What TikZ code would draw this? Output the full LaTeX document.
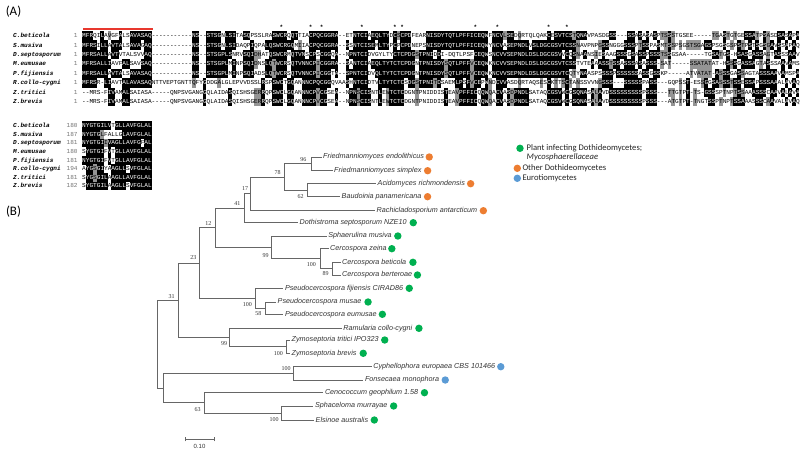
\documentclass[tikz,border=0pt]{standalone}
\usepackage{fontspec}
\setmonofont{Liberation Mono}
\newfontfamily\taxfont{Liberation Sans}
\newfontfamily\bsfont{Liberation Serif}
\newfontfamily\legfont{Carlito}
\definecolor{pgreen}{HTML}{00B050}
\definecolor{porange}{HTML}{ED7D31}
\definecolor{pblue}{HTML}{5B9BD5}
\definecolor{redbar}{HTML}{E8382E}
\tikzset{
  alseq/.style={anchor=base west, inner sep=0pt, font=\ttfamily\fontsize{6.1}{6.1}\selectfont},
  alname/.style={anchor=base west, inner sep=0pt, font=\ttfamily\bfseries\itshape\fontsize{6.1}{6.1}\selectfont},
  alnum/.style={anchor=base east, inner sep=0pt, text=black!55, font=\ttfamily\fontsize{6.1}{6.1}\selectfont},
  star/.style={anchor=base, inner sep=0pt, font=\ttfamily\bfseries\fontsize{6}{6}\selectfont},
  br/.style={draw=black!60, line width=0.75pt},
  taxon/.style={anchor=west, inner sep=1.5pt, text=black!80, font=\taxfont\itshape\fontsize{7.2}{8}\selectfont},
  boot/.style={inner sep=0pt, text=black!80, font=\bsfont\fontsize{6}{7}\selectfont},
  leafdot/.style={circle, fill=#1, inner sep=0pt, minimum size=7.4pt},
  legtext/.style={anchor=west, inner sep=0pt, text=black!85, font=\legfont\fontsize{8.6}{9}\selectfont},
  panel/.style={inner sep=0pt, font=\legfont\fontsize{13}{14}\selectfont}
}
\newcommand\alfill[4]{\fill[#1] (#2,#3-#4/2-0.03) rectangle ++(3.7,#4+0.06);}
\newcommand\alrowtext[3]{\node[alseq] (#3) at (82,#1+1.9) {#2};}

\ExplSyntaxOn
\intarray_new:Nn \g_al_cell_intarray {2000}
\intarray_new:Nn \g_al_shade_intarray {2000}
\intarray_new:Nn \g_al_grp_intarray {200}
\int_new:N \l_al_col_int
\int_new:N \l_al_len_int
\int_new:N \l_al_rows_int
\int_new:N \l_al_best_int
\int_new:N \l_al_bestch_int
\int_new:N \l_al_gbest_int
\int_new:N \l_al_gbestg_int
\int_new:N \l_al_cnt_int
\int_new:N \l_al_gcnt_int
\int_new:N \l_al_a_int
\int_new:N \l_al_b_int
\int_new:N \l_al_s_int
\int_new:N \l_al_c_int
\int_new:N \l_al_i_int
\int_new:N \l_al_j_int
\tl_new:N \l_al_row_tl
\int_const:Nn \c_al_W_int {200}

\int_step_inline:nn {199} { \intarray_gset:Nnn \g_al_grp_intarray {#1} {#1 + 1000} }
\cs_new_protected:Npn \al_setgrp:nn #1#2
  { \tl_map_inline:nn {#1} { \intarray_gset:Nnn \g_al_grp_intarray { `##1 } {#2} } }
\al_setgrp:nn {ILVM}{1}
\al_setgrp:nn {FYW}{2}
\al_setgrp:nn {KRH}{3}
\al_setgrp:nn {DE}{4}
\al_setgrp:nn {NQ}{5}
\al_setgrp:nn {ST}{6}
\al_setgrp:nn {AG}{7}

\cs_new:Npn \al_cell:nn #1#2
  { \intarray_item:Nn \g_al_cell_intarray { (#1 - 1) * \c_al_W_int + (#2) } }
\cs_new:Npn \al_grp:n #1
  { \intarray_item:Nn \g_al_grp_intarray {#1} }

\cs_new_protected:Npn \al_reset:
  {
    \intarray_gzero:N \g_al_cell_intarray
    \intarray_gzero:N \g_al_shade_intarray
    \int_zero:N \l_al_len_int
    \int_zero:N \l_al_rows_int
  }

\cs_new_protected:Npn \al_store:nn #1#2
  {
    \int_zero:N \l_al_col_int
    \tl_map_inline:nn {#2}
      {
        \int_incr:N \l_al_col_int
        \intarray_gset:Nnn \g_al_cell_intarray
          { (#1 - 1) * \c_al_W_int + \l_al_col_int } { `##1 }
      }
    \int_compare:nNnT { \l_al_col_int } > { \l_al_len_int }
      { \int_set_eq:NN \l_al_len_int \l_al_col_int }
    \int_compare:nNnT { #1 } > { \l_al_rows_int }
      { \int_set:Nn \l_al_rows_int {#1} }
  }

\cs_new_protected:Npn \al_compute:
  {
    \int_set:Nn \l_al_c_int {1}
    \int_while_do:nNnn { \l_al_c_int } < { \l_al_len_int + 1 }
      {
        \int_zero:N \l_al_best_int
        \int_zero:N \l_al_bestch_int
        \int_zero:N \l_al_gbest_int
        \int_zero:N \l_al_gbestg_int
        \int_set:Nn \l_al_i_int {1}
        \int_while_do:nNnn { \l_al_i_int } < { \l_al_rows_int + 1 }
          {
            \int_set:Nn \l_al_a_int { \al_cell:nn { \l_al_i_int } { \l_al_c_int } }
            \int_compare:nNnT { \l_al_a_int } > {45}
              {
                \int_zero:N \l_al_cnt_int
                \int_zero:N \l_al_gcnt_int
                \int_set:Nn \l_al_j_int {1}
                \int_while_do:nNnn { \l_al_j_int } < { \l_al_rows_int + 1 }
                  {
                    \int_set:Nn \l_al_b_int { \al_cell:nn { \l_al_j_int } { \l_al_c_int } }
                    \int_compare:nNnT { \l_al_b_int } > {45}
                      {
                        \int_compare:nNnT { \l_al_b_int } = { \l_al_a_int }
                          { \int_incr:N \l_al_cnt_int }
                        \int_compare:nNnT { \al_grp:n { \l_al_b_int } } = { \al_grp:n { \l_al_a_int } }
                          { \int_incr:N \l_al_gcnt_int }
                      }
                    \int_incr:N \l_al_j_int
                  }
                \int_compare:nNnT { \l_al_cnt_int } > { \l_al_best_int }
                  {
                    \int_set_eq:NN \l_al_best_int \l_al_cnt_int
                    \int_set_eq:NN \l_al_bestch_int \l_al_a_int
                  }
                \int_compare:nNnT { \l_al_gcnt_int } > { \l_al_gbest_int }
                  {
                    \int_set_eq:NN \l_al_gbest_int \l_al_gcnt_int
                    \int_set:Nn \l_al_gbestg_int { \al_grp:n { \l_al_a_int } }
                  }
              }
            \int_incr:N \l_al_i_int
          }
        \int_set:Nn \l_al_i_int {1}
        \int_while_do:nNnn { \l_al_i_int } < { \l_al_rows_int + 1 }
          {
            \int_set:Nn \l_al_a_int { \al_cell:nn { \l_al_i_int } { \l_al_c_int } }
            \int_zero:N \l_al_s_int
            \int_compare:nNnT { \l_al_a_int } > {45}
              {
                \bool_if:nTF
                  {
                    \int_compare_p:nNn { \l_al_a_int } = { \l_al_bestch_int }
                    && \int_compare_p:nNn { \l_al_best_int } > {2}
                  }
                  { \int_set:Nn \l_al_s_int {1} }
                  {
                    \bool_if:nT
                      {
                        \int_compare_p:nNn { \al_grp:n { \l_al_a_int } } = { \l_al_gbestg_int }
                        && \int_compare_p:nNn { \l_al_gbest_int } > {2}
                      }
                      { \int_set:Nn \l_al_s_int {2} }
                  }
              }
            \intarray_gset:Nnn \g_al_shade_intarray
              { (\l_al_i_int - 1) * \c_al_W_int + \l_al_c_int } { \l_al_s_int }
            \int_incr:N \l_al_i_int
          }
        \int_incr:N \l_al_c_int
      }
  }

\cs_new_protected:Npn \al_draw:nnn #1#2#3
  {
    \int_set:Nn \l_al_i_int {1}
    \int_while_do:nNnn { \l_al_i_int } < { \l_al_rows_int + 1 }
      {
        \tl_clear:N \l_al_row_tl
        \int_set:Nn \l_al_c_int {1}
        \int_while_do:nNnn { \l_al_c_int } < { \l_al_len_int + 1 }
          {
            \int_set:Nn \l_al_a_int { \al_cell:nn { \l_al_i_int } { \l_al_c_int } }
            \int_set:Nn \l_al_s_int
              { \intarray_item:Nn \g_al_shade_intarray { (\l_al_i_int - 1) * \c_al_W_int + \l_al_c_int } }
            \int_compare:nNnT { \l_al_a_int } > {0}
              {
                \int_case:nnF { \l_al_s_int }
                  {
                    {1}
                      {
                        \use:x
                          {
                            \exp_not:N \alfill {black}
                              { \fp_eval:n { 82 + 3.66 * (\l_al_c_int - 1) } }
                              { \fp_eval:n { #1 + #2 * (\l_al_i_int - 1) } } {#2}
                          }
                        \tl_put_right:Nx \l_al_row_tl
                          { \exp_not:N \textcolor{white}{ \char_generate:nn { \l_al_a_int } {12} } }
                      }
                    {2}
                      {
                        \use:x
                          {
                            \exp_not:N \alfill {black!42}
                              { \fp_eval:n { 82 + 3.66 * (\l_al_c_int - 1) } }
                              { \fp_eval:n { #1 + #2 * (\l_al_i_int - 1) } } {#2}
                          }
                        \tl_put_right:Nx \l_al_row_tl
                          { \char_generate:nn { \l_al_a_int } {12} }
                      }
                  }
                  {
                    \tl_put_right:Nx \l_al_row_tl
                      { \char_generate:nn { \l_al_a_int } {12} }
                  }
              }
            \int_incr:N \l_al_c_int
          }
        \use:x
          {
            \exp_not:N \alrowtext
              { \fp_eval:n { #1 + #2 * (\l_al_i_int - 1) } }
              { \exp_not:V \l_al_row_tl }
              { #3 \int_use:N \l_al_i_int }
          }
        \int_incr:N \l_al_i_int
      }
  }

\NewDocumentCommand \AlReset {} { \al_reset: }
\NewDocumentCommand \AlStore {mm} { \al_store:nn {#1} {#2} }
\NewDocumentCommand \AlRun {mmm} { \al_compute: \al_draw:nnn {#1} {#2} {#3} }
\ExplSyntaxOff

\begin{document}
\begin{tikzpicture}[x=1pt,y=-1pt]
\useasboundingbox (0,0) rectangle (800,450);
\fill[white] (0,0) rectangle (800,450);

% ---------- panel labels
\node[panel] (labA) at (13.5,12) {(A)};
\node[panel] (labB) at (13.5,212) {(B)};

% ---------- alignment block 1
\AlReset
\AlStore{1}{MFRQILAVGFALSAVASAQ-----------NS--STSGNLSITASQPSSLRASWCRQQTTIACPQCGGRA--ETNTCIAEQLTYDCSCPDFEARNISDYTQTLPFFICEQWFNCVLSEDQRTQLQAKCESVTCSTQNAVPASDGSS---SSASASASPTSSSTGSEE-----TGASTGTGESSATPSASDSASAPA}
\AlStore{2}{MFRSILLAVTALSAVAGAQ-----------NS--STSGNLSIDAQPIQPALQSWCRGQMIIACPQCGGRA--SSNTCISEMLTYPCPCPDNEPSNISDYTQTLPFFICEQWYNCVASEPNDLVSLDGCGSVTCSSNAVPNPGSSNGGGSSSPTSSPASMTSSPSGSTSGAGSPSGSGSPSTPSTSGSGAVSSAPAQ}
\AlStore{3}{MFRSALLAVTVTALSVVAQ-----------NS--STSGPLSNRVSQIDHATQSWCRMQTVNSCPSCGGQA--NPNTCIDVGYLTYCTCPDGSTPNIDDI-DQTLPSFCEQWSNCVVSEPNDLDSLDGCGSVVCQSNAANSIESAAGSSSGSASSPSSSTSSGSAA-----TGSATGS-HSASGASSAGTASSSAAV}
\AlStore{4}{MFRSALLIAVFALSAVSAQ-----------NS--STSGPLMINPSQIDNSLQTWCRSQTVNNCPICGGRA--SANTCIAEQLTYTCTCPDGNTPNISDYSQTLPFFVCEQWKNCVVSEPNDLDSLDGCGSVTCSSTVTEAAASSTSSASSSASASSS-SAT-----SSATATAT-HSSSGASSAGTASSSAAVAMS}
\AlStore{5}{MFRSALLAVTALSAVASAQ-----------NS--STSGPLMINPSQIADSLQTWCRSQTVNNCPICGGTA--SPNTCIDVQLTYTCTCPDGNTPNISDYSQTLPFFVCEQWKNCVVSEPNDLDSLDGCGSVTCQTYNAASPSSSSPSSSSSSASSGSSKP-----ATVATAT-ASSSGASSAGTASSSAAVAMSPA}
\AlStore{6}{MFRSR-LIAVTALAVASAQNTTVEPTGNTTQFYGDDGALGLEPVVDSSLRSPSWCTGQANNNCPQCGGQVAASHNTCIDTVLTYTCTCSDGSTPNITDSAEMLPSFVCEPWNDCVVASDQRTAQSESCKTTSCTANSSVVNGSSS---SSSSSPASS---GQPSST-ESSGGSASSSTSSESSAPSSSAAALAVAQ}
\AlStore{7}{--MRS-FIVAMALSAIASA-----QNPSVGANGGQLAIDASQISHSGERRQPSWCLGQANNNCPVCGSEA--NPNSCISNTLEWTCTCDGNTPNIDDISTEAVPFFICQQWQACVASDPNDLSATAQCGSVWCGSQNASALAVDSSSSSSSSSPSSS---TTGTPT-TS-GSSSPTNPTSSAAASSSCAAVALAVA}
\AlStore{8}{--MRS-FIVAMALSAIASA-----QNPSVGANGGQLAIDASQISHSGERRQPSWCLGQANNNCPVCGSEA--NPNSCISNTLEWTCTCDGNTPNIDDISTEAVPFFICQQWQACVASDPNDLSATAQCGSVWCGSQNASALAVDSSSSSSSSSPSSS---ATGTPT-TNGTSSPTNPTSSAAASSSCAAVALAVAQ}
\begin{scope}
\clip (0,0) rectangle (800,450);
\AlRun{35.7}{9.43}{sa}
\end{scope}

% names and numbers, block 1
\foreach \nm [count=\k] in {C.beticola,S.musiva,D.septosporum,M.eumusae,P.fijiensis,R.collo-cygni,Z.tritici,Z.brevis}{
  \node[alname] (na\k) at (13,35.7+9.43*\k-9.43+1.9) {\nm};
  \node[alnum] (ca\k) at (77.8,35.7+9.43*\k-9.43+1.9) {1};
}

% signal peptide bar and asterisks
\coordinate (rb1) at (83,29.3);
\coordinate (rb2) at (153.3,29.3);
\draw[redbar, line width=2pt] (rb1) -- (rb2);
\foreach \c [count=\k] in {54,62,65,76,85,87,107,113,127,132}{
  \node[star] (ast\k) at (82+3.66*\c+1.83,29.6) {*};
}

% ---------- alignment block 2
\AlReset
\AlStore{1}{NYGTGILVTGLLAVFGLAL}
\AlStore{2}{NYGTGLFALLGLAVFGLAL}
\AlStore{3}{NYGTGIIVAGLLAVFGFAL}
\AlStore{4}{SYGTGIFVTGLLAVFGLAL}
\AlStore{5}{NYGTGIFVTGLLAVFGLAL}
\AlStore{6}{AYGSGIYAAGLLSVFGLAL}
\AlStore{7}{SYGSGILAAGLLAVFGLAL}
\AlStore{8}{SYGTGILAAGLLSVFGLAL}
\AlRun{125.7}{8.62}{sb}
\foreach \nm/\nb [count=\k] in {C.beticola/180,S.musiva/187,D.septosporum/181,M.eumusae/180,P.fijiensis/181,R.collo-cygni/194,Z.tritici/181,Z.brevis/182}{
  \node[alname] (nb\k) at (13,125.7+8.62*\k-8.62+1.9) {\nm};
  \node[alnum] (cb\k) at (77.8,125.7+8.62*\k-8.62+1.9) {\nb};
}

% ---------- tree: internal nodes
\coordinate (n96) at (311,163.85);
\coordinate (n62) at (307.3,190.2);
\coordinate (n78) at (284.3,177.03);
\coordinate (n17) at (250.7,193.86);
\coordinate (n41) at (244.3,208.28);
\coordinate (n89) at (332.7,268.65);
\coordinate (nC100) at (320.7,258.68);
\coordinate (n99a) at (271.7,247.34);
\coordinate (n12) at (215,227.81);
\coordinate (n58) at (265,308.15);
\coordinate (nP100) at (255,298.23);
\coordinate (n23) at (199.3,263.02);
\coordinate (nZ100) at (286.7,346.65);
\coordinate (n99b) at (229.3,337.48);
\coordinate (n31) at (178.3,300.25);
\coordinate (nE100) at (293.3,373.35);
\coordinate (nS100) at (281.7,413);
\coordinate (n63) at (204.3,402.85);
\coordinate (nX) at (163.3,388.1);
\coordinate (root) at (157.3,344.18);

% leaves: end of branch, taxon, dot (gap after text)
\foreach \id/\x/\y/\gp/\col/\txt in {
  l01/321.5/157/3.5/porange/Friedmanniomyces endolithicus,
  l02/332.5/170.7/4.5/porange/Friedmanniomyces simplex,
  l03/376/183.7/4/porange/Acidomyces richmondensis,
  l04/340/196.7/4.5/porange/Baudoinia panamericana,
  l05/375/210.7/4.5/porange/Rachicladosporium antarcticum,
  l06/298/222.7/5/pgreen/Dothistroma septosporum NZE10,
  l07/326.7/236/4.5/pgreen/Sphaerulina musiva,
  l08/328.5/248.7/3.5/pgreen/Cercospora zeina,
  l09/340.5/262.3/5/pgreen/Cercospora beticola,
  l10/340.5/275/3.5/pgreen/Cercospora berteroae,
  l11/283.3/288.3/4.5/pgreen/Pseudocercospora fijiensis CIRAD86,
  l12/276/302/5/pgreen/Pseudocercospora musae,
  l13/283.3/314.3/4/pgreen/Pseudocercospora eumusae,
  l14/341.7/328.3/5/pgreen/Ramularia collo-cygni,
  l15/290/340/4.5/pgreen/Zymoseptoria tritici IPO323,
  l16/290/353.3/5/pgreen/Zymoseptoria brevis,
  l17/371.7/366.7/4/pblue/Cyphellophora europaea CBS 101466,
  l18/363.3/380/4.5/pblue/Fonsecaea monophora,
  l19/323.3/392.7/4.5/pgreen/Cenococcum geophilum 1.58,
  l20/313.3/406/4.5/pgreen/Sphaceloma murrayae,
  l21/314/420/4.5/pgreen/Elsinoe australis}{
  \coordinate (\id) at (\x,\y);
  \node[taxon] (t\id) at (\id) {\txt};
  \node[leafdot=\col] (d\id) at ([xshift=\gp pt]t\id.east |- \id) {};
}

% branches
\foreach \p/\c in {n96/l01,n96/l02,n62/l03,n62/l04,n78/n96,n78/n62,n17/n78,n17/l05,
  n41/n17,n41/l06,n89/l09,n89/l10,nC100/l08,nC100/n89,n99a/l07,n99a/nC100,
  n12/n41,n12/n99a,n58/l12,n58/l13,nP100/l11,nP100/n58,n23/n12,n23/nP100,
  nZ100/l15,nZ100/l16,n99b/l14,n99b/nZ100,n31/n23,n31/n99b,
  nE100/l17,nE100/l18,nS100/l20,nS100/l21,n63/l19,n63/nS100,nX/nE100,nX/n63,
  root/n31,root/nX}{
  \draw[br] (\p) |- (\c);
}

% bootstrap values
\foreach \v/\x/\y [count=\k] in {96/303.3/159.3,78/277.7/172.7,62/300.7/196.7,17/245/188.3,
  41/237.3/203.3,12/208.3/223.3,99/265.7/255.7,100/311.3/264.7,89/325.7/274,
  23/193.3/258,100/247.3/304.3,58/258.3/313.3,31/171.7/296.7,99/224/343.3,
  100/278.3/353.3,100/286/368.3,63/197.7/409.3,100/274/420}{
  \node[boot] (bs\k) at (\x,\y) {\v};
}

% scale bar
\coordinate (sb1) at (185,439.3);
\coordinate (sb2) at (214,439.3);
\draw[br] (sb1) -- (sb2);
\draw[br] ([yshift=-2pt]sb1) -- ([yshift=2pt]sb1);
\draw[br] ([yshift=-2pt]sb2) -- ([yshift=2pt]sb2);
\node[boot, font=\taxfont\fontsize{6}{7}\selectfont] (sblab) at (199.5,446) {0.10};

% legend
\node[leafdot=pgreen] (lg1) at (520,148.3) {};
\node[legtext] (lgt1) at (526.5,148.3) {Plant infecting Dothideomycetes;};
\node[legtext, font=\legfont\itshape\fontsize{8.6}{9}\selectfont] (lgt1b) at (526.5,157.7) {Mycosphaerellaceae};
\node[leafdot=porange] (lg2) at (517.3,168.3) {};
\node[legtext] (lgt2) at (522.3,168.3) {Other Dothideomycetes};
\node[leafdot=pblue] (lg3) at (517.3,178.3) {};
\node[legtext] (lgt3) at (522.3,178.3) {Eurotiomycetes};
\end{tikzpicture}
\end{document}
